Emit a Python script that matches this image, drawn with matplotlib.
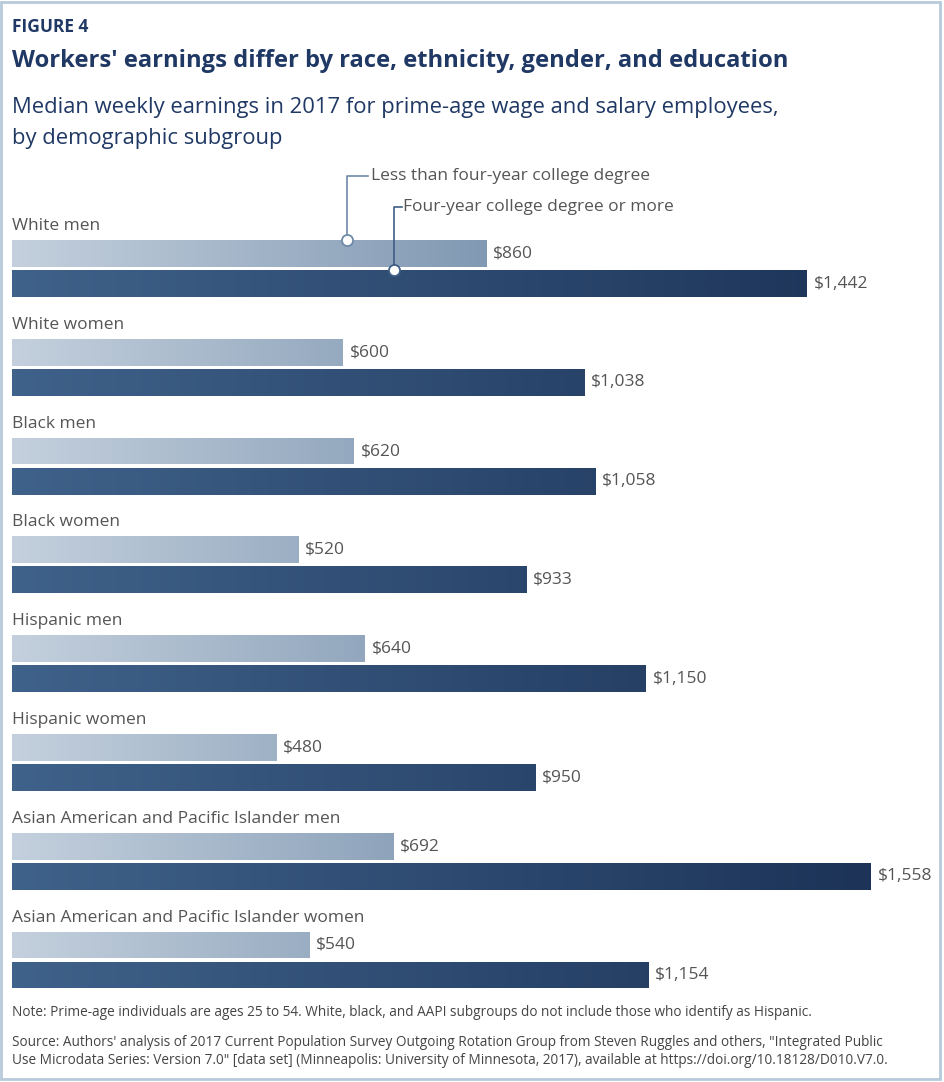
import numpy as np
import matplotlib.pyplot as plt
from matplotlib.colors import LinearSegmentedColormap
from matplotlib.patches import Rectangle

groups = ['White men', 'White women', 'Black men', 'Black women',
          'Hispanic men', 'Hispanic women',
          'Asian American and Pacific Islander men',
          'Asian American and Pacific Islander women']
less_than_degree = [860, 600, 620, 520, 640, 480, 692, 540]
degree_or_more = [1442, 1038, 1058, 933, 1150, 950, 1558, 1154]

series_names = ['Less than four-year college degree',
                'Four-year college degree or more']

navy = '#1f3864'
gray = '#555555'

plt.rcParams['font.family'] = ['Open Sans', 'Noto Sans', 'DejaVu Sans']

W, H = 945, 1082
fig = plt.figure(figsize=(W / 100, H / 100), dpi=100)

# bar axes: 1 dollar ~ 0.5513 px, groups ~98.8 px apart
px_per_dollar = 0.5513
x0_px = 12
xmax = 1600
top_px, bot_px = 219.1, 1009.4
ax = fig.add_axes([x0_px / W, 1 - bot_px / H, xmax * px_per_dollar / W, (bot_px - top_px) / H])

y = np.arange(len(groups))
off = 0.152
h = 0.272

light_cmap = LinearSegmentedColormap.from_list('light', ['#c4d0dd', '#8199b3'])
dark_cmap = LinearSegmentedColormap.from_list('dark', ['#3f628a', '#1d3358'])
grad = np.linspace(0, 1, 256).reshape(1, -1)

light_bars = ax.barh(y - off, less_than_degree, height=h, color='none')
dark_bars = ax.barh(y + off, degree_or_more, height=h, color='none')

for bars, cmap, span in [(light_bars, light_cmap, max(less_than_degree)),
                         (dark_bars, dark_cmap, max(degree_or_more))]:
    for b in bars:
        im = ax.imshow(grad, cmap=cmap, aspect='auto', interpolation='bicubic',
                       extent=[0, span, b.get_y() + b.get_height(), b.get_y()])
        im.set_clip_path(b)

for i in range(len(groups)):
    ax.text(0, y[i] - 0.43, groups[i], fontsize=12.5, color=gray, va='center', ha='left')
    ax.text(less_than_degree[i] + 12, y[i] - off, f'${less_than_degree[i]:,}',
            fontsize=12.5, color=gray, va='center', ha='left')
    ax.text(degree_or_more[i] + 12, y[i] + off, f'${degree_or_more[i]:,}',
            fontsize=12.5, color=gray, va='center', ha='left')

ax.set_xlim(0, xmax)
ax.set_ylim(len(groups) - 0.5, -0.5)
ax.axis('off')

# leader-line legend on the first group
lx1, lx2 = 608, 693
ly1 = -0.5 - 43 / 98.8
ly2 = -0.5 - 12 / 98.8
ax.plot([lx1, lx1, lx1 + 38], [y[0] - off - h / 2, ly1, ly1], color='#6f8aa8', lw=1.2, clip_on=False)
ax.plot([lx2, lx2, lx2 + 14], [y[0] + off - h / 2, ly2, ly2], color='#3f5f86', lw=1.2, clip_on=False)
ax.plot([lx1], [y[0] - off - h / 2], 'o', ms=8, mfc='white', mec='#6f8aa8', mew=1.3, clip_on=False)
ax.plot([lx2], [y[0] + off - h / 2], 'o', ms=8, mfc='white', mec='#3f5f86', mew=1.3, clip_on=False)
ax.text(lx1 + 44, ly1, series_names[0], fontsize=12.5, color=gray, va='center', ha='left', clip_on=False)
ax.text(lx2 + 17, ly2, series_names[1], fontsize=12.5, color=gray, va='center', ha='left', clip_on=False)

# header
fig.text(12 / W, 1 - 27 / H, 'FIGURE 4', fontsize=12.5, fontweight='bold', color=navy, va='center')
fig.text(12 / W, 1 - 61 / H, "Workers' earnings differ by race, ethnicity, gender, and education",
         fontsize=17.1, fontweight='bold', color=navy, va='center')
fig.text(12 / W, 1 - 107 / H, 'Median weekly earnings in 2017 for prime-age wage and salary employees,',
         fontsize=15.8, color=navy, va='center')
fig.text(12 / W, 1 - 138 / H, 'by demographic subgroup', fontsize=15.8, color=navy, va='center')

# notes
note_font = ['Open Sans', 'DejaVu Sans']
fig.text(12 / W, 1 - 1013 / H,
         'Note: Prime-age individuals are ages 25 to 54. White, black, and AAPI subgroups do not include those who identify as Hispanic.',
         fontsize=9.8, color='#444444', va='center', family=note_font)
fig.text(12 / W, 1 - 1042 / H,
         'Source: Authors\' analysis of 2017 Current Population Survey Outgoing Rotation Group from Steven Ruggles and others, "Integrated Public',
         fontsize=9.8, color='#444444', va='center', family=note_font)
fig.text(12 / W, 1 - 1061 / H,
         'Use Microdata Series: Version 7.0" [data set] (Minneapolis: University of Minnesota, 2017), available at https://doi.org/10.18128/D010.V7.0.',
         fontsize=9.8, color='#444444', va='center', family=note_font)

# outer frame
fig.patches.append(Rectangle((1.5 / W, 3 / H), (W - 6) / W, (H - 5) / H, transform=fig.transFigure,
                             fill=False, edgecolor='#b7cadb', lw=2))

fig.savefig('out.png', dpi=100)
